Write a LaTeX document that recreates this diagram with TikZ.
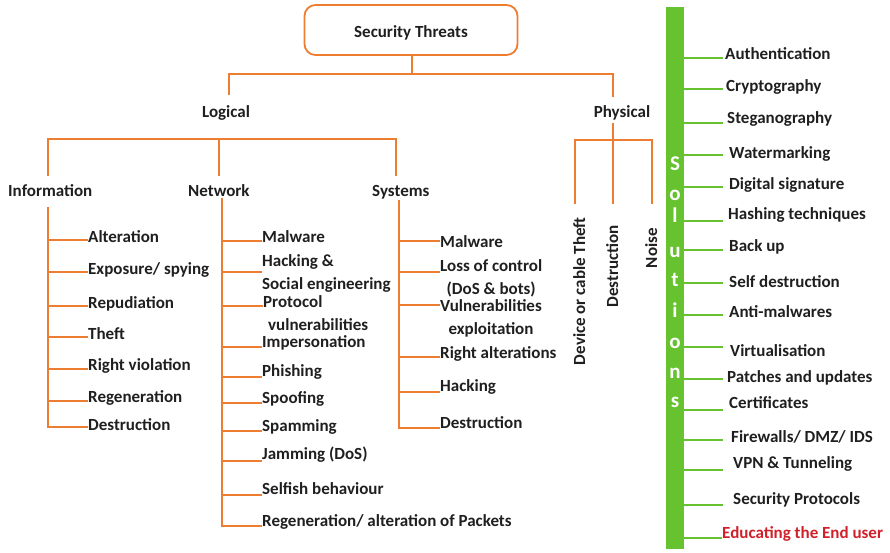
\documentclass[tikz,border=0pt]{standalone}
\usepackage{fontspec}
\setmainfont{Carlito}
\definecolor{orng}{HTML}{ED7D31}
\definecolor{grn}{HTML}{66C22E}
\definecolor{redt}{HTML}{D0202A}
\begin{document}
\begin{tikzpicture}[x=1pt,y=-1pt,
  lbl/.style={font=\bfseries\fontsize{17}{23}\selectfont, inner sep=0pt, text=black!88},
  obr/.style={draw=orng, line width=1.8pt},
  gbr/.style={draw=grn, line width=1.6pt},
  letter/.style={font=\bfseries\fontsize{21}{21}\selectfont, text=white, inner sep=0pt, anchor=base}]
\useasboundingbox (0,0) rectangle (890,552);
% root
\node[draw=orng, line width=1.8pt, rounded corners=11pt, minimum width=213pt, minimum height=50pt, inner sep=0pt] (root) at (411,30) {};
\node[lbl, anchor=base] (roott) at (411,37) {Security Threats};
\coordinate (rj) at (412,74);
\node[lbl, anchor=base] (logical) at (226,117) {Logical};
\node[lbl, anchor=base] (physical) at (622,117) {Physical};
\draw[obr] (root.south -| rj) -- (rj);
\draw[obr] (229,95) |- (rj) -| (613,97);
% logical level
\node[lbl, anchor=base west] (info) at (8,196) {Information};
\node[lbl, anchor=base west] (net) at (188,196) {Network};
\node[lbl, anchor=base west] (sys) at (372,196) {Systems};
\draw[obr] (48,176) |- (219,139) -- (219,176);
\draw[obr] (219,139) -| (396,176);
% information
\draw[obr] (48,207) -- (48,428);
\foreach \ly/\by/\t [count=\i] in {240/242/Alteration, 272/274/Exposure\slash\ spying, 306/308/Repudiation, 337/339/Theft, 369/370/Right violation, 401/402/Regeneration, 427/430/Destruction}{
  \node[lbl, anchor=base west] (inf\i) at (88,\by) {\t};
  \draw[obr] (48,\ly) -- (inf\i.west |- 0,\ly);
}
% network
\draw[obr] (222,198) -- (222,527);
\foreach \ly/\by/\t [count=\i] in {241/242/Malware, 347/347/Impersonation, 377/376/Phishing, 403/403/Spoofing, 431/431/Spamming, 461/459/Jamming (DoS), 495/494/Selfish behaviour, 526/526/Regeneration\slash\ alteration of Packets}{
  \node[lbl, anchor=base west] (nw\i) at (262,\by) {\t};
  \draw[obr] (222,\ly) -- (nw\i.west |- 0,\ly);
}
\node[lbl, anchor=base west, align=left] (nwh) at (262,289) {Hacking \&\\Social engineering};
\draw[obr] (222,272) -- (nwh.west |- 0,272);
\node[lbl, anchor=base west, align=left] (nwp) at (263,330) {Protocol\\\hspace{5pt}vulnerabilities};
\draw[obr] (222,306) -- (nwp.west |- 0,306);
% systems
\draw[obr] (399,200) -- (399,429);
\foreach \ly/\by/\t [count=\i] in {241/247/Malware, 357/358/Right alterations, 392/391/Hacking, 428/428/Destruction}{
  \node[lbl, anchor=base west] (sy\i) at (440,\by) {\t};
  \draw[obr] (399,\ly) -- (sy\i.west |- 0,\ly);
}
\node[lbl, anchor=base west, align=center] (syl) at (440,294) {Loss of control\\(DoS \& bots)};
\draw[obr] (399,272) -- (syl.west |- 0,272);
\node[lbl, anchor=base west, align=center] (syv) at (440,334) {Vulnerabilities\\exploitation};
\draw[obr] (399,305) -- (syv.west |- 0,305);
% physical
\draw[obr] (613,123) -- (613,204);
\draw[obr] (575,204) |- (652,140) -- (652,204);
\node[lbl, rotate=90, anchor=base east] (dev) at (585,217) {Device or cable Theft};
\node[lbl, rotate=90, anchor=base east] (pdes) at (618,225) {Destruction};
\node[lbl, rotate=90, anchor=base east] (noise) at (657,228) {Noise};
% solutions bar
\fill[grn] (666,7) rectangle (684,549);
\node[coordinate] (bar) at (684,0) {};
\foreach \c/\by [count=\i] in {S/170, o/200, l/222, u/257, t/286, i/317, o/348, n/378, s/407}{
  \node[letter] (let\i) at (675,\by) {\c};
}
\foreach \ly/\by/\tx/\t [count=\i] in {58/59/725/Authentication, 89/91/726/Cryptography, 123/123/727/Steganography, 155/158/729/Watermarking, 187/189/729/Digital signature, 221/219/728/Hashing techniques, 250/251/729/Back up, 283/287/729/Self destruction, 315/317/729/Anti-malwares, 347/356/730/Virtualisation, 379/382/727/Patches and updates, 410/408/729/Certificates, 440/442/731/Firewalls\slash\ DMZ\slash\ IDS, 470/468/733/VPN \& Tunneling, 505/504/733/Security Protocols}{
  \node[lbl, anchor=base west] (sol\i) at (\tx,\by) {\t};
  \draw[gbr] (bar |- 0,\ly) -- (723,\ly);
}
\node[lbl, anchor=base west, text=redt] (edu) at (722,538) {Educating the End user};
\draw[gbr] (bar |- 0,538) -- (edu.west |- 0,538);
\end{tikzpicture}
\end{document}
